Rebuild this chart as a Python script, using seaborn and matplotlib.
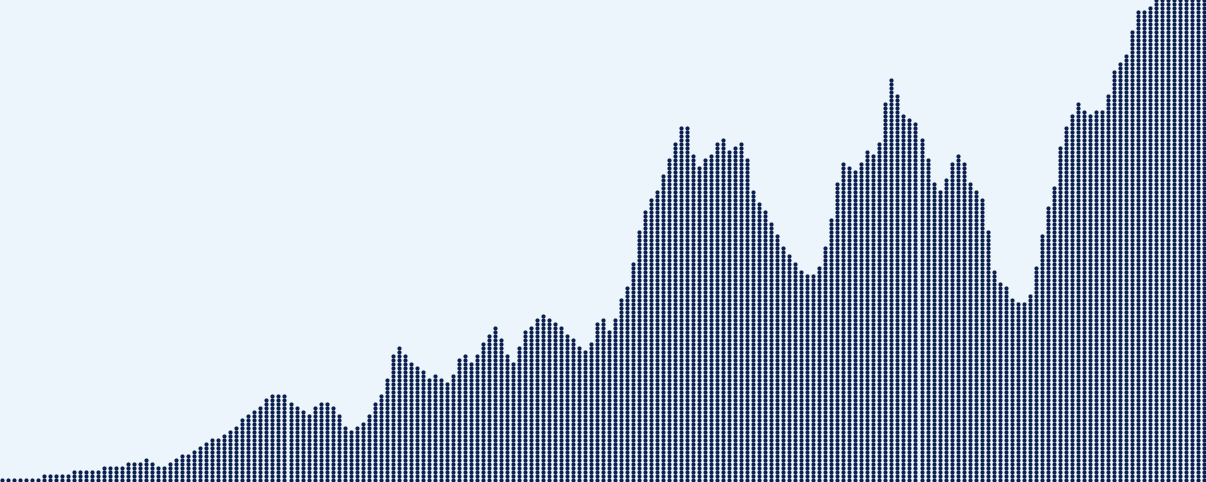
import matplotlib
matplotlib.use('Agg')
import matplotlib.pyplot as plt
import seaborn as sns
import pandas as pd

# Número de pontos empilhados em cada coluna (esquerda -> direita)
dot_counts = [
    1, 1, 1, 1, 1, 1, 1, 2, 2, 2,
    2, 2, 3, 3, 3, 3, 3, 4, 4, 4,
    4, 5, 5, 5, 6, 5, 4, 4, 5, 6,
    7, 7, 8, 9, 10, 11, 11, 12, 13, 14,
    16, 17, 18, 19, 21, 22, 22, 22, 20, 19,
    18, 17, 19, 20, 20, 19, 17, 14, 13, 14,
    15, 17, 20, 22, 26, 32, 34, 32, 30, 29,
    28, 26, 27, 26, 25, 27, 31, 32, 30, 32,
    35, 37, 39, 36, 32, 30, 34, 38, 39, 41,
    42, 41, 40, 39, 37, 36, 34, 33, 35, 40,
    41, 38, 41, 46, 49, 55, 63, 68, 71, 73,
    77, 81, 85, 89, 89, 82, 79, 81, 82, 85,
    86, 83, 84, 85, 81, 73, 70, 68, 65, 62,
    59, 57, 55, 53, 52, 52, 54, 59, 66, 75,
    80, 79, 78, 80, 83, 82, 85, 95, 101, 97,
    92, 91, 90, 86, 81, 75, 73, 76, 80, 82,
    80, 75, 73, 71, 63, 53, 50, 49, 46, 45,
    45, 47, 54, 62, 69, 74, 84, 89, 92, 95,
    93, 92, 93, 93, 97, 103, 105, 107, 113, 118,
    118, 119, 122, 122, 122, 122, 122, 122, 122, 122, 122,
]

BG_COLOR = '#edf5fc'
DOT_COLOR = '#0c1f4e'

# Expande cada coluna em uma linha por ponto
rows = []
for col, n in enumerate(dot_counts):
    for level in range(n):
        rows.append({'col': col, 'level': level})
df = pd.DataFrame(rows)

fig = plt.figure(figsize=(12.06, 4.82), dpi=100)
fig.patch.set_facecolor(BG_COLOR)
ax = fig.add_axes([0, 0, 1, 1])
ax.set_facecolor(BG_COLOR)

sns.scatterplot(data=df, x='col', y='level', s=9, color=DOT_COLOR,
                linewidth=0, ax=ax, legend=False)

ax.set_xlim(-0.34, len(dot_counts) - 1 + 0.34)
ax.set_ylim(-0.5, 120)
ax.axis('off')

plt.savefig('out.png', dpi=100, facecolor=BG_COLOR)
plt.close()
